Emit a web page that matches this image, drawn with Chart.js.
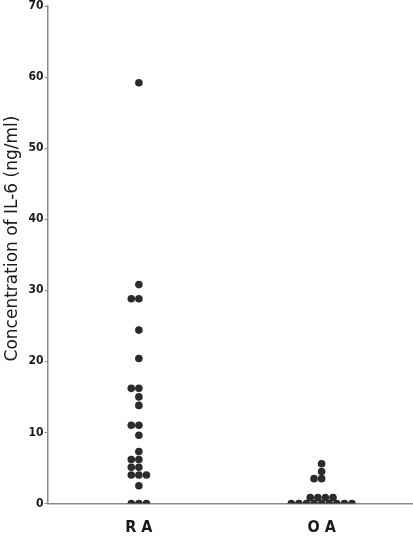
<!DOCTYPE html>
<html>
<head>
<meta charset="utf-8">
<script src="https://cdn.jsdelivr.net/npm/chart.js@4.4.1/dist/chart.umd.min.js"></script>
<style>
  html, body { margin: 0; padding: 0; background: #fff; }
</style>
</head>
<body>
<canvas id="chart" width="413" height="545"></canvas>
<script>
// values (ng/ml)
const groups = ['R A', 'O A'];
const raValues = [59.2, 30.8, 28.8, 28.8, 24.4, 20.4, 16.2, 16.2, 15.0, 13.8, 11.0, 11.0, 9.6,
                  7.3, 6.2, 6.2, 5.1, 5.1, 4.0, 4.0, 4.0, 2.5, 0, 0, 0];
const oaValues = [5.6, 4.5, 3.5, 3.5, 0.85, 0.85, 0.85, 0.85, 0, 0, 0, 0, 0, 0, 0, 0, 0];
const yTicks = [0, 10, 20, 30, 40, 50, 60, 70];

const dotStep = 0.0415; // horizontal spacing of dots sharing a value, in x units
const condensed = "'Liberation Sans Narrow', 'DejaVu Sans Condensed', sans-serif";

// lay out equal values side by side (dot plot)
function swarm(values, center) {
    let rows = {};
    values.forEach(v => { rows[v] = (rows[v] || 0) + 1; });
    let pts = [];
    Object.keys(rows).forEach(k => {
        let n = rows[k];
        let start = (n % 2 === 0 && n > 2) ? -(n - 1) / 2 : -Math.floor(n / 2);
        for (let i = 0; i < n; i++) {
            pts.push({ x: center + (start + i) * dotStep, y: Number(k) });
        }
    });
    return pts;
}

let ctx = document.getElementById('chart').getContext('2d');

new Chart(ctx, {
    type: 'scatter',
    data: {
        datasets: [
            { label: groups[0], data: swarm(raValues, 1) },
            { label: groups[1], data: swarm(oaValues, 2) }
        ]
    },
    options: {
        responsive: false,
        animation: false,
        events: [],
        layout: { autoPadding: false, padding: { top: 6, left: 0, right: 0, bottom: 0 } },
        elements: {
            point: { radius: 3.8, backgroundColor: '#2b2b2b', borderWidth: 0 }
        },
        plugins: {
            legend: { display: false },
            tooltip: { enabled: false }
        },
        scales: {
            x: {
                type: 'linear',
                min: 0.5,
                max: 2.5,
                afterBuildTicks: s => { s.ticks = [{ value: 1 }, { value: 2 }]; },
                afterFit: s => { s.height = 41.5; s.paddingLeft = 0; s.paddingRight = 0; },
                ticks: {
                    callback: v => groups[v - 1],
                    font: { family: condensed, size: 16, weight: 'bold' },
                    color: '#1a1a1a',
                    padding: 15,
                    maxRotation: 0
                },
                grid: { drawOnChartArea: false, drawTicks: false },
                border: { color: '#8a8a8a', width: 1.5 }
            },
            y: {
                min: 0,
                max: 70,
                afterBuildTicks: s => { s.ticks = yTicks.map(v => ({ value: v })); },
                afterFit: s => { s.width = 47.5; s.paddingTop = 0; s.paddingBottom = 0; },
                ticks: {
                    font: { family: condensed, size: 12, weight: 'bold' },
                    color: '#1a1a1a',
                    padding: 1
                },
                grid: { drawOnChartArea: false, tickLength: 3, color: '#8a8a8a' },
                border: { color: '#8a8a8a', width: 1.5 },
                title: {
                    display: true,
                    text: '\u00a0\u00a0\u00a0\u00a0\u00a0\u00a0Concentration of IL-6 (ng/ml)',
                    font: { family: "'DejaVu Sans', sans-serif", size: 17 },
                    color: '#1a1a1a',
                    padding: { top: 2, bottom: 0 }
                }
            }
        }
    }
});
</script>
</body>
</html>
